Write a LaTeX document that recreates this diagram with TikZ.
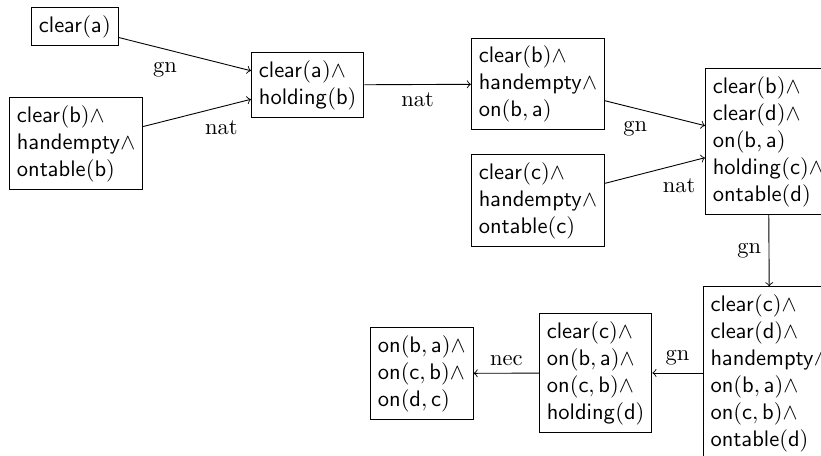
\documentclass[tikz,border=0pt]{standalone}
\begin{document}
\begin{tikzpicture}[box/.style={draw,align=left},lbl/.style={auto=right}]
		\useasboundingbox (0,0) rectangle (12.83,-7.125);
		\node[box,anchor=west] (clra) at (0.484,-0.414) {$\mathsf{clear(a)}$};
		\node[box,anchor=west] (ontb) at (0.141,-2.242) {$\mathsf{clear(b)}\wedge$\\$\mathsf{handempty}\wedge$\\$\mathsf{ontable(b)}$};
		\node[box,anchor=west] (holdb) at (3.922,-1.328) {$\mathsf{clear(a)}\wedge$\\$\mathsf{holding(b)}$};
		\node[box,anchor=west] (onba) at (7.359,-1.313) {$\mathsf{clear(b)}\wedge$\\$\mathsf{handempty}\wedge$\\$\mathsf{on(b,a)}$};
		\node[box,anchor=west] (ontc) at (7.359,-3.133) {$\mathsf{clear(c)}\wedge$\\$\mathsf{handempty}\wedge$\\$\mathsf{ontable(c)}$};
		\node[box,anchor=west] (holdc) at (11.016,-2.211) {$\mathsf{clear(b)}\wedge$\\$\mathsf{clear(d)}\wedge$\\$\mathsf{on(b,a)}$\\$\mathsf{holding(c)}\wedge$\\$\mathsf{ontable(d)}$};
		\node[box,anchor=west] (hande) at (10.98,-5.828) {$\mathsf{clear(c)}\wedge$\\$\mathsf{clear(d)}\wedge$\\$\mathsf{handempty}\wedge$\\$\mathsf{on(b,a)}\wedge$\\$\mathsf{on(c,b)}\wedge$\\$\mathsf{ontable(d)}$};
		\node[box,anchor=west] (holdd) at (8.422,-5.828) {$\mathsf{clear(c)}\wedge$\\$\mathsf{on(b,a)}\wedge$\\$\mathsf{on(c,b)}\wedge$\\$\mathsf{holding(d)}$};
		\node[box,anchor=west] (goal) at (5.781,-5.836) {$\mathsf{on(b,a)}\wedge$\\$\mathsf{on(c,b)}\wedge$\\$\mathsf{on(d,c)}$};
		% edges
		\draw[->] (clra) -- node[lbl] {gn} (holdb);
		\draw[->] (ontb) -- node[lbl] {nat} (holdb);
		\draw[->] (holdb) -- node[lbl] {nat} (onba);
		\draw[->] (onba) -- node[lbl] {gn} (holdc);
		\draw[->] (ontc) -- node[lbl] {nat} (holdc);
		\draw[->] (holdc) -- node[lbl] {gn} (hande);
		\draw[->] (hande) -- node[lbl] {gn} (holdd);
		\draw[->] (holdd) -- node[lbl] {nec} (goal);
	\end{tikzpicture}
\end{document}
